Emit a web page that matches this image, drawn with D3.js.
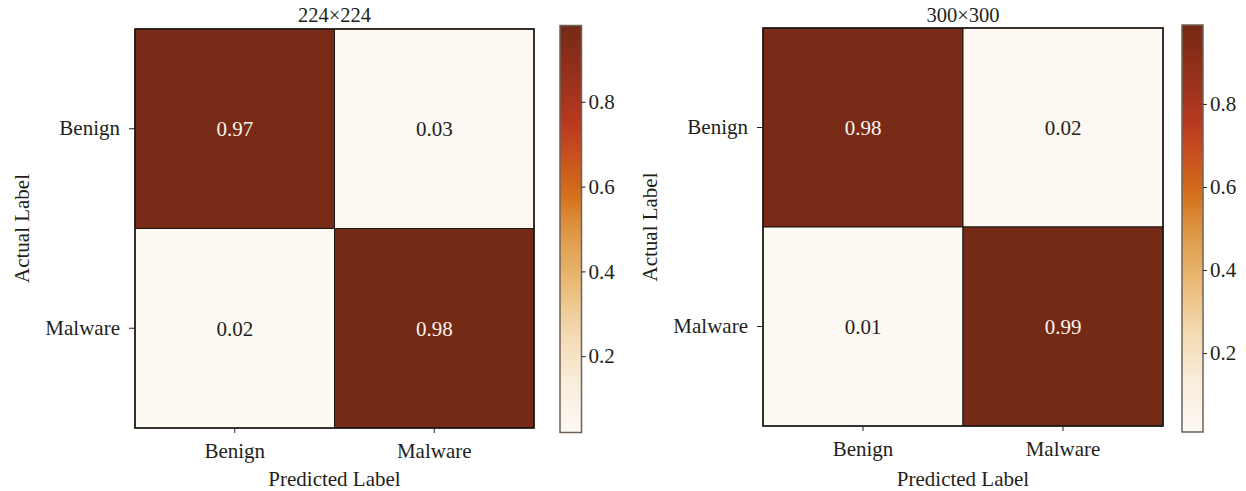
<!DOCTYPE html>
<html>
<head>
<meta charset="utf-8">
<script src="https://cdn.jsdelivr.net/npm/d3@7"></script>
<style>
  html, body { margin: 0; padding: 0; background: #ffffff; }
  svg { display: block; }
  text { font-family: "Liberation Serif", "DejaVu Serif", serif; fill: #231f20; }
</style>
</head>
<body>
<svg id="chart" width="1246" height="491"></svg>
<script>
// ---- data ----
const categories = ["Benign", "Malware"];
const panelTitles = ["224×224", "300×300"];
const matrix224 = [[0.97, 0.03], [0.02, 0.98]];
const matrix300 = [[0.98, 0.02], [0.01, 0.99]];
const colorbarTicks = [0.2, 0.4, 0.6, 0.8];
const xAxisTitle = "Predicted Label";
const yAxisTitle = "Actual Label";

// colormap stops (normalized position -> colour)
const cmapPos = [0.0, 0.12, 0.25, 0.38, 0.5, 0.58, 0.68, 0.76, 0.88, 1.0];
const cmapCol = ["#fdf9f3", "#f9eddd", "#f3d9b0", "#e8b770", "#dd9443", "#d3721c", "#c8501f", "#b8391f", "#94301b", "#752a16"];

// ---- layout ----
const FS = 21;
const panels = [
  { title: panelTitles[0], m: matrix224, x0: 135, x1: 534, y0: 29, y1: 428, cbx: 560, cbw: 21.5, cby0: 25.5, cby1: 432.5, ylabX: 29 },
  { title: panelTitles[1], m: matrix300, x0: 763, x1: 1163, y0: 28, y1: 426, cbx: 1182, cbw: 21, cby0: 25, cby1: 432, ylabX: 657 }
];

const svg = d3.select("#chart");
const defs = svg.append("defs");

panels.forEach((p, pi) => {
  const flat = p.m.flat();
  const vmin = d3.min(flat), vmax = d3.max(flat);
  const color = d3.scaleLinear()
    .domain(cmapPos.map(t => vmin + t * (vmax - vmin)))
    .range(cmapCol)
    .interpolate(d3.interpolateRgb)
    .clamp(true);

  const x = d3.scaleBand().domain(categories).range([p.x0, p.x1]);
  const y = d3.scaleBand().domain(categories).range([p.y0, p.y1]);
  const g = svg.append("g");

  // cells
  const cells = [];
  p.m.forEach((row, i) => row.forEach((v, j) => cells.push({ r: categories[i], c: categories[j], v })));
  g.selectAll("rect.cell").data(cells).join("rect")
    .attr("class", "cell")
    .attr("x", d => x(d.c)).attr("y", d => y(d.r))
    .attr("width", x.bandwidth()).attr("height", y.bandwidth())
    .attr("fill", d => color(d.v))
    .attr("stroke", "#1a1412").attr("stroke-width", 1);

  g.selectAll("text.val").data(cells).join("text")
    .attr("class", "val")
    .attr("x", d => x(d.c) + x.bandwidth() / 2)
    .attr("y", d => y(d.r) + y.bandwidth() / 2)
    .attr("dy", "0.35em")
    .attr("text-anchor", "middle")
    .style("font-size", FS + "px")
    .style("fill", d => ((d.v - vmin) / (vmax - vmin) > 0.5 ? "#fbf3ec" : "#231f20"))
    .text(d => d.v.toFixed(2));

  // frame
  g.append("rect")
    .attr("x", p.x0).attr("y", p.y0)
    .attr("width", p.x1 - p.x0).attr("height", p.y1 - p.y0)
    .attr("fill", "none").attr("stroke", "#1a1412").attr("stroke-width", 1.5);

  // axes
  const ax = g.append("g").attr("transform", `translate(0,${p.y1})`)
    .call(d3.axisBottom(x).tickSize(5).tickPadding(10));
  const ay = g.append("g").attr("transform", `translate(${p.x0},0)`)
    .call(d3.axisLeft(y).tickSize(6).tickPadding(9));
  [ax, ay].forEach(a => {
    a.select(".domain").remove();
    a.selectAll(".tick line").attr("stroke", "#231f20").attr("stroke-width", 1);
    a.selectAll(".tick text").style("font-size", FS + "px").style("fill", "#231f20")
      .attr("font-family", "Liberation Serif, DejaVu Serif, serif");
  });

  // titles
  g.append("text")
    .attr("x", (p.x0 + p.x1) / 2).attr("y", 22)
    .attr("text-anchor", "middle").style("font-size", "20.5px")
    .text(p.title);
  g.append("text")
    .attr("x", (p.x0 + p.x1) / 2).attr("y", 486)
    .attr("text-anchor", "middle").style("font-size", FS + "px")
    .text(xAxisTitle);
  g.append("text")
    .attr("transform", `translate(${p.ylabX},${(p.y0 + p.y1) / 2}) rotate(-90)`)
    .attr("text-anchor", "middle").style("font-size", FS + "px")
    .text(yAxisTitle);

  // colorbar
  const cbScale = d3.scaleLinear().domain([vmin, vmax]).range([p.cby1, p.cby0]);
  const gradId = "cbgrad" + pi;
  const grad = defs.append("linearGradient").attr("id", gradId)
    .attr("x1", 0).attr("y1", 1).attr("x2", 0).attr("y2", 0);
  d3.range(0, 1.0001, 0.02).forEach(t => {
    grad.append("stop").attr("offset", t).attr("stop-color", color(vmin + t * (vmax - vmin)));
  });
  g.append("rect")
    .attr("x", p.cbx).attr("y", p.cby0)
    .attr("width", p.cbw).attr("height", p.cby1 - p.cby0)
    .attr("fill", `url(#${gradId})`)
    .attr("stroke", "#6e6259").attr("stroke-width", 1.5);
  const ac = g.append("g").attr("transform", `translate(${p.cbx + p.cbw},0)`)
    .call(d3.axisRight(cbScale).tickValues(colorbarTicks).tickFormat(d3.format(".1f")).tickSize(4).tickPadding(3));
  ac.select(".domain").remove();
  ac.selectAll(".tick line").attr("stroke", "#231f20");
  ac.selectAll(".tick text").style("font-size", FS + "px").style("fill", "#231f20")
    .attr("font-family", "Liberation Serif, DejaVu Serif, serif");
});
</script>
</body>
</html>
